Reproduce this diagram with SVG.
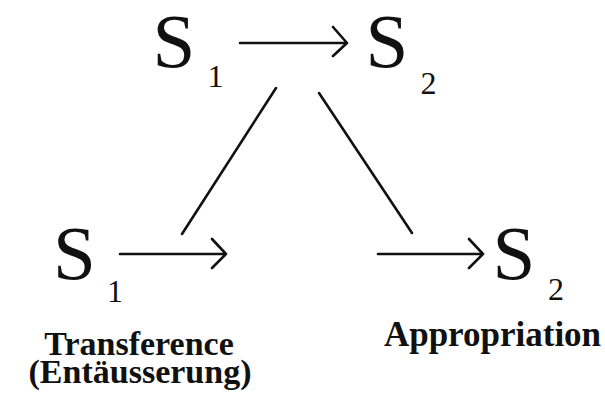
<svg xmlns="http://www.w3.org/2000/svg" width="605" height="399" viewBox="0 0 605 399">
<defs>
<style>
text{font-family:"Liberation Serif","Times New Roman",serif;fill:#111;text-anchor:middle}
.big{font-size:77px}
.sub{font-size:32px}
.lbl{font-size:34px;font-weight:bold}
.ln{stroke:#111;stroke-width:2.6;fill:none;stroke-linecap:round;stroke-linejoin:round}
</style>
</defs>
<rect width="605" height="399" fill="#fff"/>
<g id="top-s1"><text class="big" x="174" y="67">S</text><text class="sub" x="215.5" y="87">1</text></g>
<g id="top-s2"><text class="big" x="387" y="67">S</text><text class="sub" x="428.5" y="94">2</text></g>
<g id="bottom-s1"><text class="big" x="74.5" y="279">S</text><text class="sub" x="115" y="302">1</text>
<text class="lbl" x="139" y="355">Transference</text><text class="lbl" x="140" y="383">(Entäusserung)</text></g>
<g id="bottom-s2"><text class="big" x="514" y="279">S</text><text class="sub" x="556" y="300">2</text>
<text class="lbl" x="492.5" y="346" style="font-size:35px">Appropriation</text></g>
<g id="connectors">
<path class="ln" d="M240 43H347M333 27L347 43L333 56"/>
<path class="ln" d="M120 254H226M212 239L226 254L212 268"/>
<path class="ln" d="M378 254H483M469 239L483 254L469 268"/>
<path class="ln" d="M276 88L182 234"/>
<path class="ln" d="M319 93L412 233"/>
</g>
</svg>
